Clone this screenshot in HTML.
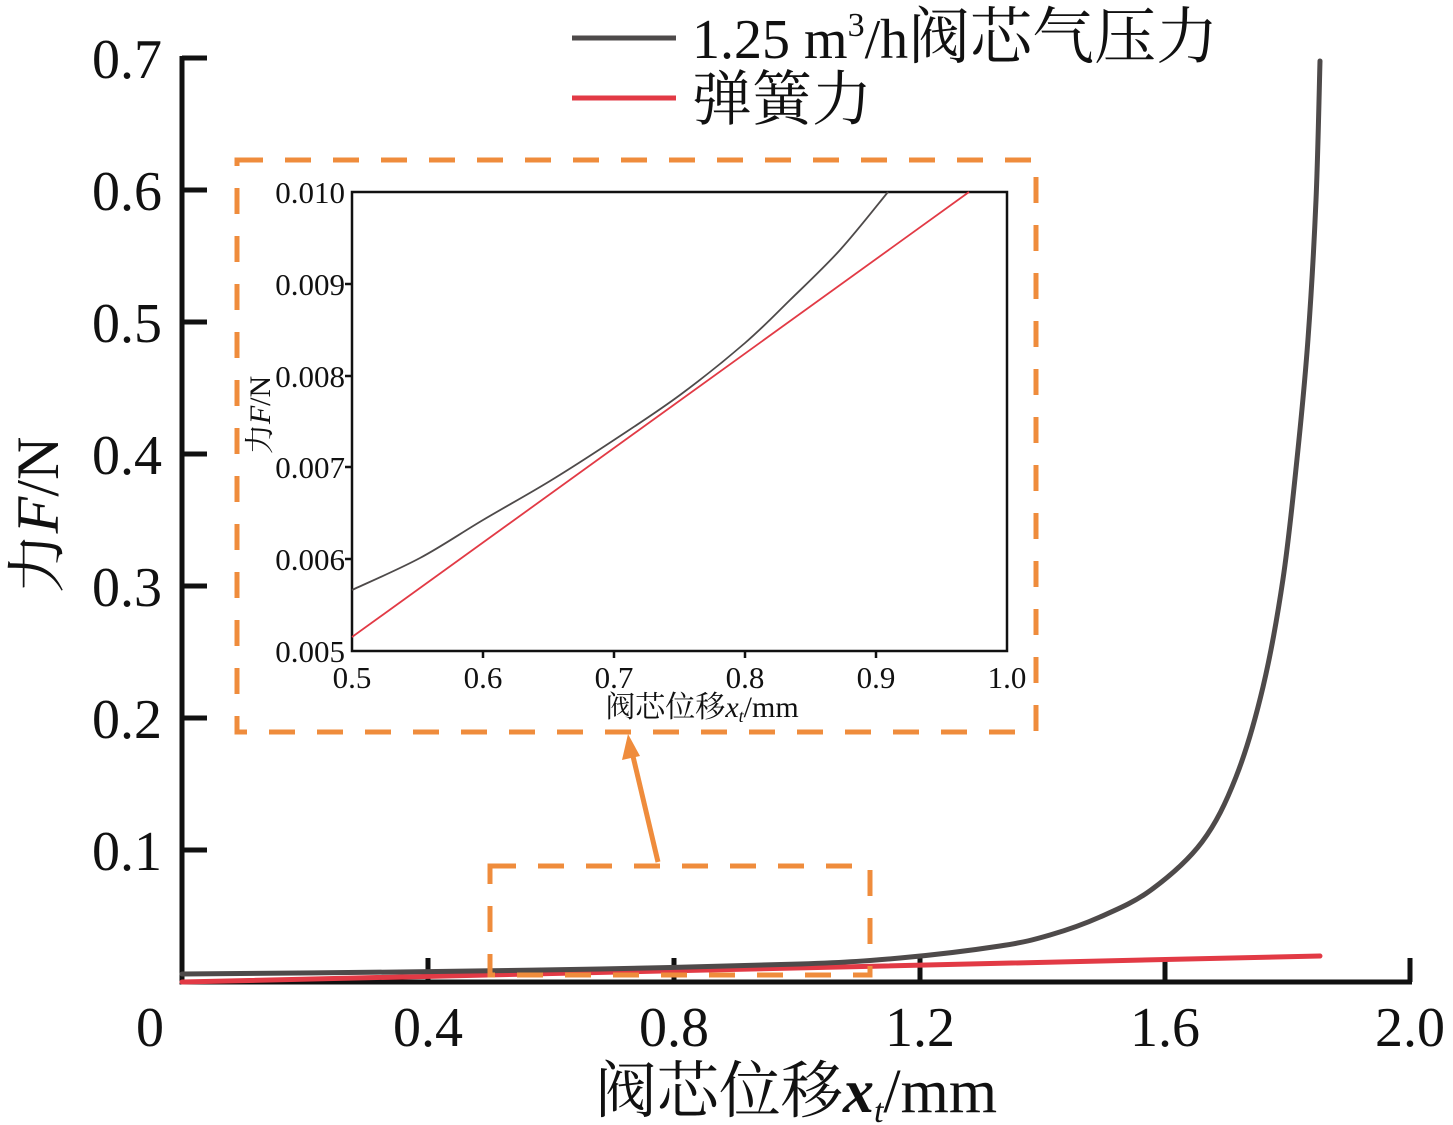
<!DOCTYPE html>
<html><head><meta charset="utf-8"><style>
body{margin:0;background:#fff;}
svg{display:block;}
text{font-family:"Liberation Serif","Noto Serif CJK SC",serif;fill:#111;}
</style></head><body>
<svg width="1453" height="1125" viewBox="0 0 1453 1125">
<g stroke="#111" stroke-width="5" fill="none">
<path d="M182,56 V982 H1412"/>
<path d="M182,58 H207 M182,190 H207 M182,322 H207 M182,454 H207 M182,586 H207 M182,718 H207 M182,850 H207"/>
<path d="M428,982 V958 M674,982 V958 M920,982 V958 M1165,982 V958 M1410,982 V958"/>
</g>
<g font-size="56" text-anchor="end">
<text x="162" y="78">0.7</text><text x="162" y="210">0.6</text><text x="162" y="342">0.5</text>
<text x="162" y="474">0.4</text><text x="162" y="606">0.3</text><text x="162" y="738">0.2</text><text x="162" y="870">0.1</text>
</g>
<g font-size="56" text-anchor="middle">
<text x="150" y="1046">0</text><text x="428" y="1046">0.4</text><text x="674" y="1046">0.8</text>
<text x="920" y="1046">1.2</text><text x="1165" y="1046">1.6</text><text x="1410" y="1046">2.0</text>
</g>
<text x="796" y="1112" font-size="62" text-anchor="middle">阀芯位移<tspan font-style="italic" font-weight="bold">x</tspan><tspan font-style="italic" font-size="34" dy="10">t</tspan><tspan dy="-10">/mm</tspan></text>
<text transform="translate(58,515) rotate(-90)" font-size="60" text-anchor="middle">力<tspan font-style="italic">F</tspan>/N</text>
<path fill="none" stroke="#e23a45" stroke-width="5" stroke-linecap="round" d="M182,982 L1320,956"/>
<path id="g1" fill="none" stroke="#4e4a4a" stroke-width="5" stroke-linecap="round"/>
<line x1="572" y1="38" x2="676" y2="38" stroke="#4e4a4a" stroke-width="5"/>
<text x="692" y="58" font-size="56">1.25 m<tspan font-size="34" dy="-22">3</tspan><tspan dy="22">/h</tspan><tspan font-size="62">阀芯气压力</tspan></text>
<line x1="572" y1="98" x2="676" y2="98" stroke="#e23a45" stroke-width="5"/>
<text x="692" y="120" font-size="60">弹簧力</text>
<g fill="none" stroke="#ef8c3c" stroke-width="5" stroke-dasharray="26,22">
<rect x="237" y="160" width="799" height="572"/>
<rect x="490" y="866" width="380" height="109"/>
</g>
<line x1="658" y1="862" x2="632" y2="752" stroke="#ef8c3c" stroke-width="5"/>
<polygon points="628,734 622,760 640,756" fill="#ef8c3c"/>
<rect x="352" y="192" width="655" height="459" fill="#fff" stroke="#111" stroke-width="2.5"/>
<g stroke="#111" stroke-width="2.5">
<path d="M345,284 H352 M345,376 H352 M345,467 H352 M345,559 H352"/>
<path d="M483,651 V658 M614,651 V658 M745,651 V658 M876,651 V658"/>
</g>
<g font-size="31" text-anchor="end">
<text x="345" y="203">0.010</text><text x="345" y="295">0.009</text><text x="345" y="387">0.008</text>
<text x="345" y="478">0.007</text><text x="345" y="570">0.006</text><text x="345" y="662">0.005</text>
</g>
<g font-size="31" text-anchor="middle">
<text x="352" y="688">0.5</text><text x="483" y="688">0.6</text><text x="614" y="688">0.7</text>
<text x="745" y="688">0.8</text><text x="876" y="688">0.9</text><text x="1007" y="688">1.0</text>
</g>
<text x="702" y="717" font-size="30" text-anchor="middle">阀芯位移<tspan font-style="italic">x</tspan><tspan font-style="italic" font-size="18" dy="5">t</tspan><tspan dy="-5">/mm</tspan></text>
<text transform="translate(270,415) rotate(-90)" font-size="30" text-anchor="middle">力<tspan font-style="italic">F</tspan>/N</text>
<polyline fill="none" stroke="#e23a45" stroke-width="1.8" points="352,637 969,192"/>
<path id="g2" fill="none" stroke="#4e4a4a" stroke-width="1.8"/>
</svg>
<script>
function cr(p){var d="M"+p[0][0]+","+p[0][1];for(var i=0;i<p.length-1;i++){var a=p[i-1]||p[i],b=p[i],c=p[i+1],e=p[i+2]||c;
d+=" C"+(b[0]+(c[0]-a[0])/6)+","+(b[1]+(c[1]-a[1])/6)+" "+(c[0]-(e[0]-b[0])/6)+","+(c[1]-(e[1]-b[1])/6)+" "+c[0]+","+c[1];}return d;}
document.getElementById("g1").setAttribute("d",cr([[182,974],[400,972],[600,969],[800,964],[900,958],[1000,946],[1050,935],[1100,917],[1151,890],[1202,842],[1236,777],[1263,687],[1283,579],[1297,459],[1308,339],[1316,200],[1320,61]]));
document.getElementById("g2").setAttribute("d",cr([[352,590],[420,558],[483,520],[550,481],[614,440],[680,395],[745,343],[790,300],[840,250],[888,192]]));
</script>
</body></html>
